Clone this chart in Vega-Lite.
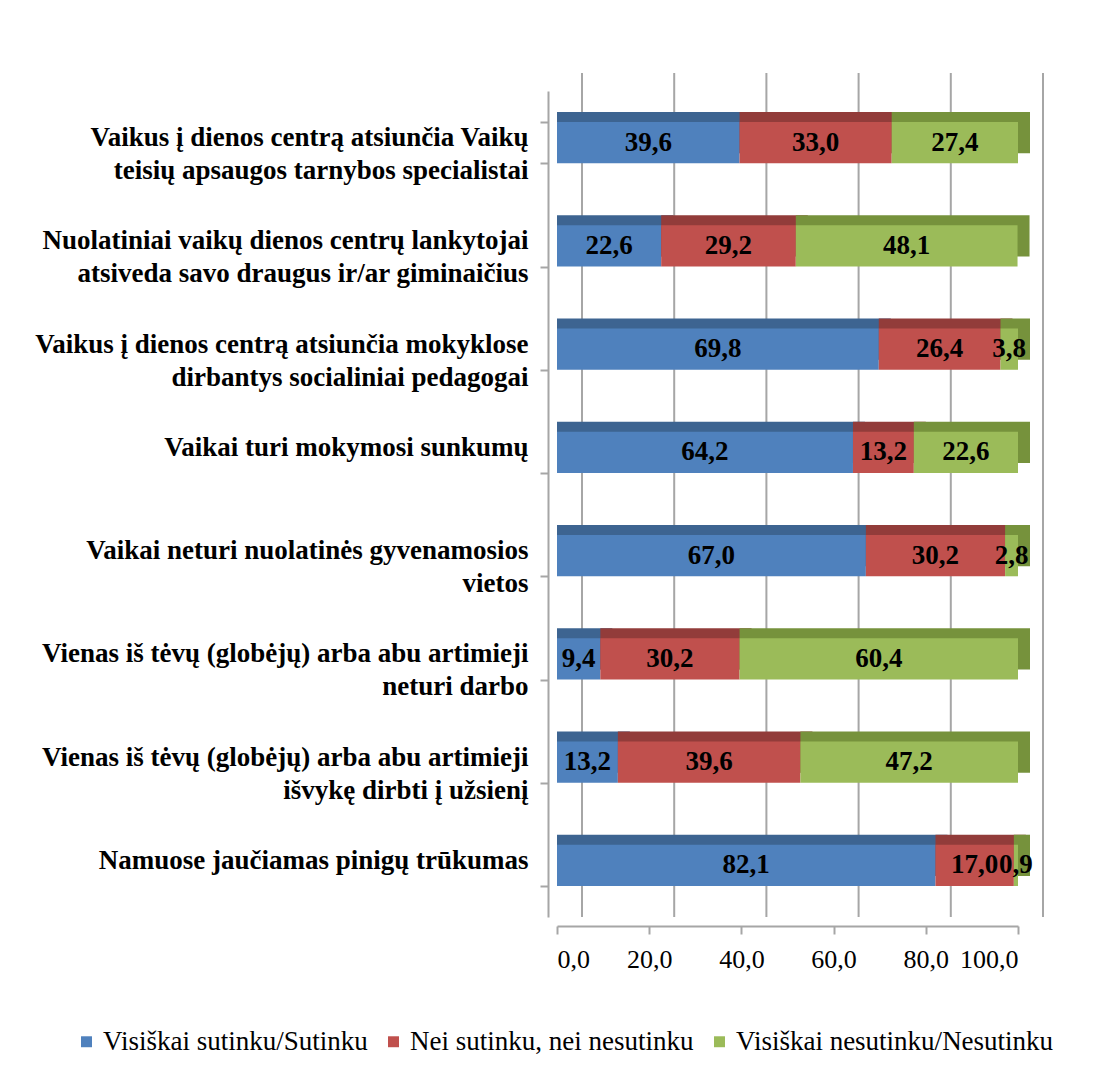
{
  "$schema": "https://vega.github.io/schema/vega-lite/v6.json",
  "width": 461,
  "height": 826,
  "autosize": {"type": "none"},
  "padding": {"left": 557, "top": 91, "right": 79, "bottom": 155},
  "background": "white",
  "config": {"view": {"stroke": null}, "font": "Liberation Serif"},
  "datasets": {
    "grid": [{"g": 0}, {"g": 20}, {"g": 40}, {"g": 60}, {"g": 80}, {"g": 100}],
    "bars": [
      {"category": "Vaikus į dienos centrą atsiunčia Vaikų|teisių apsaugos tarnybos specialistai", "series": "Visiškai sutinku/Sutinku", "order": 1, "value": 39.6},
      {"category": "Vaikus į dienos centrą atsiunčia Vaikų|teisių apsaugos tarnybos specialistai", "series": "Nei sutinku, nei nesutinku", "order": 2, "value": 33.0},
      {"category": "Vaikus į dienos centrą atsiunčia Vaikų|teisių apsaugos tarnybos specialistai", "series": "Visiškai nesutinku/Nesutinku", "order": 3, "value": 27.4},
      {"category": "Nuolatiniai vaikų dienos centrų lankytojai|atsiveda savo draugus ir/ar giminaičius", "series": "Visiškai sutinku/Sutinku", "order": 1, "value": 22.6},
      {"category": "Nuolatiniai vaikų dienos centrų lankytojai|atsiveda savo draugus ir/ar giminaičius", "series": "Nei sutinku, nei nesutinku", "order": 2, "value": 29.2},
      {"category": "Nuolatiniai vaikų dienos centrų lankytojai|atsiveda savo draugus ir/ar giminaičius", "series": "Visiškai nesutinku/Nesutinku", "order": 3, "value": 48.1},
      {"category": "Vaikus į dienos centrą atsiunčia mokyklose|dirbantys socialiniai pedagogai", "series": "Visiškai sutinku/Sutinku", "order": 1, "value": 69.8},
      {"category": "Vaikus į dienos centrą atsiunčia mokyklose|dirbantys socialiniai pedagogai", "series": "Nei sutinku, nei nesutinku", "order": 2, "value": 26.4},
      {"category": "Vaikus į dienos centrą atsiunčia mokyklose|dirbantys socialiniai pedagogai", "series": "Visiškai nesutinku/Nesutinku", "order": 3, "value": 3.8},
      {"category": "Vaikai turi mokymosi sunkumų", "series": "Visiškai sutinku/Sutinku", "order": 1, "value": 64.2},
      {"category": "Vaikai turi mokymosi sunkumų", "series": "Nei sutinku, nei nesutinku", "order": 2, "value": 13.2},
      {"category": "Vaikai turi mokymosi sunkumų", "series": "Visiškai nesutinku/Nesutinku", "order": 3, "value": 22.6},
      {"category": "Vaikai neturi nuolatinės gyvenamosios|vietos", "series": "Visiškai sutinku/Sutinku", "order": 1, "value": 67.0},
      {"category": "Vaikai neturi nuolatinės gyvenamosios|vietos", "series": "Nei sutinku, nei nesutinku", "order": 2, "value": 30.2},
      {"category": "Vaikai neturi nuolatinės gyvenamosios|vietos", "series": "Visiškai nesutinku/Nesutinku", "order": 3, "value": 2.8},
      {"category": "Vienas iš tėvų (globėjų) arba abu artimieji|neturi darbo", "series": "Visiškai sutinku/Sutinku", "order": 1, "value": 9.4},
      {"category": "Vienas iš tėvų (globėjų) arba abu artimieji|neturi darbo", "series": "Nei sutinku, nei nesutinku", "order": 2, "value": 30.2},
      {"category": "Vienas iš tėvų (globėjų) arba abu artimieji|neturi darbo", "series": "Visiškai nesutinku/Nesutinku", "order": 3, "value": 60.4},
      {"category": "Vienas iš tėvų (globėjų) arba abu artimieji|išvykę dirbti į užsienį", "series": "Visiškai sutinku/Sutinku", "order": 1, "value": 13.2},
      {"category": "Vienas iš tėvų (globėjų) arba abu artimieji|išvykę dirbti į užsienį", "series": "Nei sutinku, nei nesutinku", "order": 2, "value": 39.6},
      {"category": "Vienas iš tėvų (globėjų) arba abu artimieji|išvykę dirbti į užsienį", "series": "Visiškai nesutinku/Nesutinku", "order": 3, "value": 47.2},
      {"category": "Namuose jaučiamas pinigų trūkumas", "series": "Visiškai sutinku/Sutinku", "order": 1, "value": 82.1},
      {"category": "Namuose jaučiamas pinigų trūkumas", "series": "Nei sutinku, nei nesutinku", "order": 2, "value": 17.0},
      {"category": "Namuose jaučiamas pinigų trūkumas", "series": "Visiškai nesutinku/Nesutinku", "order": 3, "value": 0.9}
    ]
  },
  "layer": [
    {
      "data": {"name": "grid"},
      "mark": {"type": "rule", "color": "#A6A6A6", "strokeWidth": 2, "xOffset": 25, "yOffset": -18},
      "encoding": {
        "x": {
          "field": "g",
          "type": "quantitative",
          "scale": {"domain": [0, 100]},
          "axis": {
            "title": null,
            "orient": "bottom",
            "values": [0, 20, 40, 60, 80, 100],
            "labelExpr": "replace(format(datum.value, '.1f'), '.', ',')",
            "labelFont": "Liberation Serif",
            "labelFontSize": 26,
            "labelColor": "black",
            "grid": false,
            "domainColor": "#A6A6A6",
            "domainWidth": 2,
            "tickColor": "#A6A6A6",
            "tickWidth": 2,
            "tickSize": 8,
            "offset": 9,
            "labelPadding": 12
          }
        }
      }
    },
    {
      "data": {"name": "bars"},
      "transform": [
        {"stack": "value", "groupby": ["category"], "sort": [{"field": "order"}], "as": ["x0", "x1"]}
      ],
      "mark": {"type": "bar", "xOffset": 12, "yOffset": -10},
      "encoding": {
        "y": {
          "field": "category",
          "type": "nominal",
          "sort": null,
          "scale": {"paddingInner": 0.6, "paddingOuter": 0.3},
          "axis": {
            "title": null,
            "labelExpr": "split(datum.label, '|')",
            "labelFont": "Liberation Serif",
            "labelFontWeight": "bold",
            "labelFontSize": 27,
            "labelColor": "black",
            "labelLineHeight": 33,
            "labelLimit": 540,
            "labelOffset": -5,
            "tickBand": "extent",
            "tickSize": 8,
            "tickColor": "#A6A6A6",
            "tickWidth": 2,
            "domainColor": "#A6A6A6",
            "domainWidth": 2,
            "offset": 9,
            "labelPadding": 12
          }
        },
        "x": {"field": "x1", "type": "quantitative"},
        "x2": {"field": "x0"},
        "color": {
          "field": "series",
          "type": "nominal",
          "sort": null,
          "scale": {
            "domain": ["Visiškai sutinku/Sutinku", "Nei sutinku, nei nesutinku", "Visiškai nesutinku/Nesutinku"],
            "range": ["#3D6491", "#923C3A", "#76923C"]
          },
          "legend": null
        }
      }
    },
    {
      "data": {"name": "bars"},
      "transform": [
        {"stack": "value", "groupby": ["category"], "sort": [{"field": "order"}], "as": ["x0", "x1"]}
      ],
      "mark": {"type": "bar"},
      "encoding": {
        "y": {"field": "category", "type": "nominal", "sort": null},
        "x": {"field": "x0", "type": "quantitative"},
        "x2": {"field": "x1"},
        "fill": {
          "field": "series",
          "type": "nominal",
          "sort": null,
          "scale": {
            "domain": ["Visiškai sutinku/Sutinku", "Nei sutinku, nei nesutinku", "Visiškai nesutinku/Nesutinku"],
            "range": ["#4F81BD", "#C0504D", "#9BBB59"]
          },
          "legend": {
            "title": null,
            "orient": "none",
            "legendX": -484,
            "legendY": 937,
            "direction": "horizontal",
            "labelFont": "Liberation Serif",
            "labelFontSize": 27,
            "labelColor": "black",
            "labelLimit": 420,
            "symbolType": "square",
            "symbolSize": 120,
            "symbolStrokeWidth": 0,
            "columnPadding": 12,
            "labelOffset": 3
          }
        }
      }
    },
    {
      "data": {"name": "bars"},
      "transform": [
        {"stack": "value", "groupby": ["category"], "sort": [{"field": "order"}], "as": ["x0", "x1"]},
        {"calculate": "(datum.x0 + datum.x1) / 2", "as": "mid"},
        {"calculate": "replace(format(datum.value, '.1f'), '.', ',')", "as": "lab"}
      ],
      "mark": {"type": "text", "font": "Liberation Serif", "fontWeight": "bold", "fontSize": 27, "color": "black"},
      "encoding": {
        "y": {"field": "category", "type": "nominal", "sort": null},
        "x": {"field": "mid", "type": "quantitative"},
        "text": {"field": "lab"}
      }
    }
  ],
  "resolve": {"scale": {"color": "independent"}}
}
